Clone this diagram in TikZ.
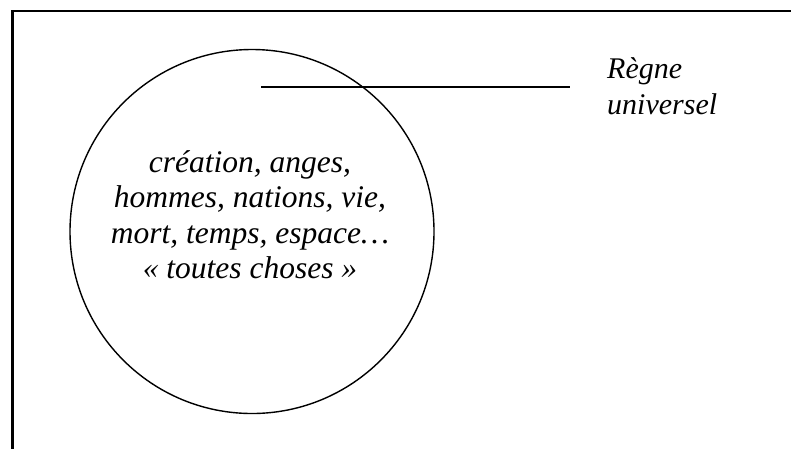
\documentclass[tikz,border=0pt]{standalone}
\usepackage{fontspec}
\setmainfont{Liberation Serif}
\begin{document}
\begin{tikzpicture}[x=1pt,y=-1pt,
  txt/.style={font=\fontsize{30}{35.5}\selectfont\itshape, inner sep=0pt, anchor=base},
  ctxt/.style={txt, font=\fontsize{31.5}{35.5}\selectfont\itshape},
  ltxt/.style={txt, anchor=base west},
  frame/.style={line width=2.6pt},
  bar/.style={line width=2.5pt},
  ring/.style={circle, draw, line width=1.4pt, minimum size=364pt, inner sep=0pt}]
\useasboundingbox (0,0) rectangle (791,448);
\fill[white] (0,0) rectangle (791,448);
\coordinate (fb) at (12.5,460);
\coordinate (fc) at (12.5,11);
\coordinate (fr) at (800,11);
\draw[frame] (fb) -- (fc) -- (fr);
\node[ring] (c) at (252,231.5) {};
\coordinate (la) at (261,87);
\coordinate (lb) at (570,87);
\draw[bar] (la) -- (lb);
\node[ctxt] (l1) at (250,172) {création, anges,};
\node[ctxt] (l2) at (250,207.5) {hommes, nations, vie,};
\node[ctxt] (l3) at (250,243) {mort, temps, espace…};
\node[ctxt] (l4) at (250,278.5) {« toutes choses »};
\node[ltxt] (r1) at (607,78) {Règne};
\node[ltxt] (r2) at (607,114.5) {universel};
\end{tikzpicture}
\end{document}
